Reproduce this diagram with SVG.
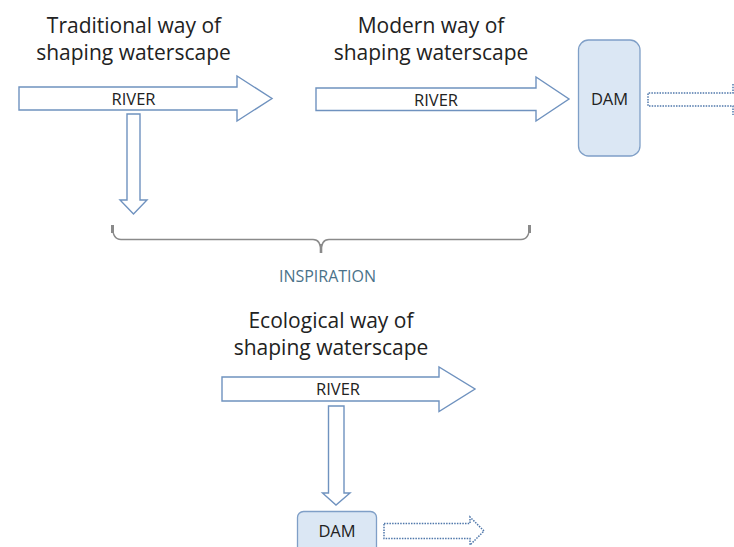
<svg xmlns="http://www.w3.org/2000/svg" width="734" height="547" viewBox="0 0 734 547">
<style>
.title{font-family:"Open Sans","Liberation Sans",sans-serif;font-size:21px;fill:#222;text-anchor:middle}
.lbl{font-family:"Open Sans","Liberation Sans",sans-serif;font-size:16.5px;fill:#222;text-anchor:middle}
.insp{font-family:"Open Sans","Liberation Sans",sans-serif;font-size:16px;fill:#4b7289;text-anchor:middle}
.arrow{fill:#fff;stroke:#6f92bf;stroke-width:1.4;stroke-linejoin:miter}
.dam{fill:#dbe7f4;stroke:#7f9fc7;stroke-width:1.3}
.dot{fill:none;stroke:#4f77aa;stroke-width:1.5;stroke-dasharray:1.5 1.2}
.brace{fill:none;stroke:#8a8a8a;stroke-width:1.4}
</style>
<rect width="734" height="547" fill="#fff"/>
<g id="title-traditional">
<text class="title" x="134" y="33">Traditional way of</text>
<text class="title" x="133.5" y="60">shaping waterscape</text>
</g>
<g id="title-modern">
<text class="title" x="431" y="33">Modern way of</text>
<text class="title" x="431" y="60">shaping waterscape</text>
</g>
<g id="title-ecological">
<text class="title" x="331" y="328">Ecological way of</text>
<text class="title" x="331" y="355">shaping waterscape</text>
</g>
<g id="river1">
<polygon class="arrow" points="19,87 237,87 237,76 272,98.5 237,121 237,110 19,110"/>
<text class="lbl" x="133.5" y="104.5">RIVER</text>
</g>
<g id="river2">
<polygon class="arrow" points="316,88 536,88 536,77 569,99 536,121 536,110.5 316,110.5"/>
<text class="lbl" x="436" y="105.5">RIVER</text>
</g>
<g id="dam1">
<rect class="dam" x="578.5" y="40" width="61.5" height="116" rx="10"/>
<text class="lbl" x="609.5" y="105">DAM</text>
</g>
<g id="river3">
<polygon class="arrow" points="222,377 439,377 439,367 475,389 439,411.5 439,401 222,401"/>
<text class="lbl" x="338" y="395">RIVER</text>
</g>
<g id="dam2">
<rect class="dam" x="297.5" y="511.5" width="79" height="50" rx="6"/>
<text class="lbl" x="337" y="537">DAM</text>
</g>
<g id="inspiration">
<path class="brace" d="M112.5,226 Q112.5,239.5 121,239.5 L313,239.5 Q321,239.5 321,252 Q321,239.5 329,239.5 L521,239.5 Q529.5,239.5 529.5,226"/>
<path d="M112.5,225 L112.5,233" stroke="#8a8a8a" stroke-width="3" fill="none"/>
<path d="M529.5,225 L529.5,233" stroke="#8a8a8a" stroke-width="3" fill="none"/>
<path d="M321,244 L321,253" stroke="#8a8a8a" stroke-width="2.6" fill="none"/>
<text class="insp" x="327.5" y="281.5">INSPIRATION</text>
</g>
<g id="connectors">
<polygon class="arrow" points="127,114 140,114 140,200 147,200 133.5,214 120,200 127,200"/>
<polygon class="arrow" points="328.5,406 344,406 344,493 350,493 336,505 322.5,493 328.5,493"/>
<polyline class="dot" points="733,84 733,93 648,93 648,106 733,106 733,115"/>
<polygon class="dot" points="384,523.5 470,523.5 470,517 484,531 470,545 470,538.5 384,538.5"/>
</g>
</svg>
